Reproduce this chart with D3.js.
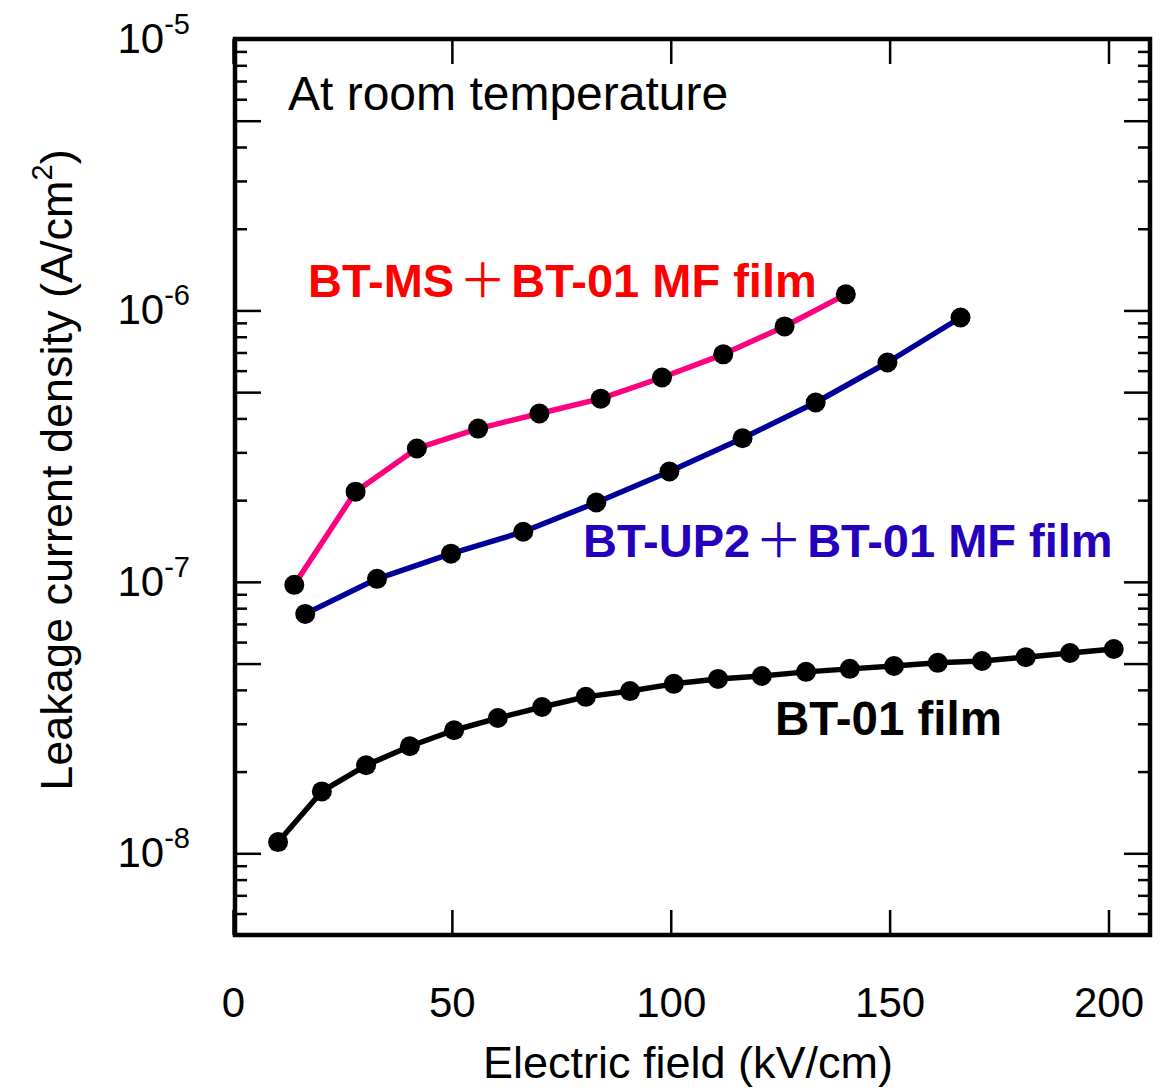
<!DOCTYPE html>
<html>
<head>
<meta charset="utf-8">
<script src="https://cdn.jsdelivr.net/npm/d3@7"></script>
<style>
  html, body { margin: 0; padding: 0; background: #fff; }
  svg { display: block; font-family: "Liberation Sans", Arial, Helvetica, sans-serif; }
</style>
</head>
<body>
<svg id="chart" width="1175" height="1088"></svg>
<script>
// ---- data ----
const xTickValues = [0, 50, 100, 150, 200];
const yDecadeValues = [1e-8, 1e-7, 1e-6, 1e-5];
const yDecadeExponents = ["-8", "-7", "-6", "-5"];

const msField = [14, 28, 42, 56, 70, 84, 98, 112, 126, 140];
const msJ = [9.75e-8, 2.15e-7, 3.10e-7, 3.67e-7, 4.17e-7, 4.73e-7, 5.66e-7, 6.89e-7, 8.73e-7, 1.146e-6];

const up2Field = [16.5, 32.9, 49.8, 66.3, 83.0, 99.7, 116.4, 133.1, 149.5, 166.2];
const up2J = [7.62e-8, 1.026e-7, 1.27e-7, 1.53e-7, 1.96e-7, 2.55e-7, 3.38e-7, 4.58e-7, 6.43e-7, 9.42e-7];

const bt01Field = [10.3, 20.3, 30.4, 40.4, 50.5, 60.5, 70.6, 80.6, 90.7, 100.7,
                   110.8, 120.8, 130.9, 140.9, 151.0, 161.0, 171.1, 181.1, 191.2, 201.2];
const bt01J = [1.10e-8, 1.69e-8, 2.11e-8, 2.48e-8, 2.84e-8, 3.15e-8, 3.46e-8, 3.77e-8, 3.96e-8, 4.21e-8,
               4.39e-8, 4.50e-8, 4.66e-8, 4.78e-8, 4.90e-8, 5.03e-8, 5.11e-8, 5.28e-8, 5.47e-8, 5.66e-8];

const seriesNames = ["BT-MS", "BT-UP2", "BT-01"];

// ---- layout ----
const svg = d3.select("#chart");
const L = 235, R = 1150, T = 39, B = 935;
const W = R - L, H = B - T;

const x = d3.scaleLinear().domain([0, 200]).range([-2, 873.5]);
const y = d3.scaleLog().domain([5e-9, 1e-5]).range([H, 0]);

const g = svg.append("g").attr("transform", `translate(${L},${T})`);

// tick values
const majorY = [], minorY = [];
[-9, -8, -7, -6].forEach(e => {
  for (let m = 1; m <= 9; m++) {
    const v = m * Math.pow(10, e);
    if (v < 5e-9 * 0.999 || v > 1e-5 * 1.001) continue;
    if (m === 1 || m === 5) majorY.push(v); else minorY.push(v);
  }
});
majorY.push(1e-5);

function styleAxis(sel, sw) {
  sel.select(".domain").remove();
  sel.selectAll(".tick line").attr("stroke", "#000").attr("stroke-width", sw);
  sel.selectAll(".tick text").remove();
}

g.append("g").call(d3.axisLeft(y).tickValues(majorY).tickSize(-26)).call(styleAxis, 2.5);
g.append("g").call(d3.axisLeft(y).tickValues(minorY).tickSize(-12)).call(styleAxis, 2.5);
g.append("g").attr("transform", `translate(${W},0)`).call(d3.axisRight(y).tickValues(majorY).tickSize(-26)).call(styleAxis, 2.5);
g.append("g").attr("transform", `translate(${W},0)`).call(d3.axisRight(y).tickValues(minorY).tickSize(-12)).call(styleAxis, 2.5);

// x axes
const xb = g.append("g").attr("transform", `translate(0,${H})`)
  .call(d3.axisBottom(x).tickValues(xTickValues).tickSize(-25).tickPadding(52).tickFormat(d3.format("d")));
xb.select(".domain").remove();
xb.selectAll(".tick line").attr("stroke", "#000").attr("stroke-width", 2.5);
xb.selectAll(".tick text").attr("font-size", 42).attr("fill", "#000")
  .attr("font-family", "Liberation Sans, Arial, sans-serif");
g.append("g").call(d3.axisTop(x).tickValues(xTickValues).tickSize(-25)).call(styleAxis, 2.5);

// y decade labels
const yl = g.append("g");
yDecadeValues.forEach((v, i) => {
  const t = yl.append("text")
    .attr("x", -45).attr("y", y(v) + 14)
    .attr("text-anchor", "end")
    .attr("font-size", 42).attr("fill", "#000");
  t.append("tspan").text("10");
  t.append("tspan").attr("font-size", 29).attr("dy", -19).text(yDecadeExponents[i]);
});

// frame
g.append("rect").attr("x", 0).attr("y", 0).attr("width", W).attr("height", H)
  .attr("fill", "none").attr("stroke", "#000").attr("stroke-width", 4.5);

// series
const line = d3.line().x(d => x(d[0])).y(d => y(d[1]));
const series = [
  { name: seriesNames[0], fx: msField, fy: msJ, color: "#ff0080" },
  { name: seriesNames[1], fx: up2Field, fy: up2J, color: "#000099" },
  { name: seriesNames[2], fx: bt01Field, fy: bt01J, color: "#000000" }
];
series.forEach(s => {
  const pts = s.fx.map((v, i) => [v, s.fy[i]]);
  g.append("path").datum(pts).attr("d", line)
    .attr("fill", "none").attr("stroke", s.color).attr("stroke-width", 5.5)
    .attr("stroke-linejoin", "round");
  g.append("g").selectAll("circle").data(pts).join("circle")
    .attr("cx", d => x(d[0])).attr("cy", d => y(d[1])).attr("r", 10).attr("fill", "#000");
});

// annotations
svg.append("text").attr("x", 288).attr("y", 110).attr("font-size", 48).attr("fill", "#000")
  .text("At room temperature");

function seriesLabel(xp, yp, color, a, b) {
  const t = svg.append("text").attr("x", xp).attr("y", yp).attr("font-size", 47)
    .attr("font-weight", "bold").attr("fill", color);
  t.append("tspan").text(a);
  t.append("tspan").attr("font-weight", "normal").attr("dx", 5)
    .attr("font-family", "'Noto Sans CJK JP', 'Liberation Sans', sans-serif").text("＋");
  t.append("tspan").attr("dx", 5).text(b);
}
seriesLabel(308, 297, "#ff0000", "BT-MS", "BT-01 MF film");
seriesLabel(583, 557, "#2500bd", "BT-UP2", "BT-01 MF film");
svg.append("text").attr("x", 775).attr("y", 735).attr("font-size", 47.5)
  .attr("font-weight", "bold").attr("fill", "#000").text("BT-01 film");

// axis titles
svg.append("text").attr("x", 688).attr("y", 1078).attr("text-anchor", "middle")
  .attr("font-size", 45).attr("fill", "#000").text("Electric field (kV/cm)");
const yt = svg.append("text").attr("transform", "translate(72,470) rotate(-90)")
  .attr("text-anchor", "middle").attr("font-size", 45).attr("fill", "#000");
yt.append("tspan").text("Leakage current density (A/cm");
yt.append("tspan").attr("font-size", 29).attr("dy", -20).text("2");
yt.append("tspan").attr("dy", 20).text(")");
</script>
</body>
</html>
